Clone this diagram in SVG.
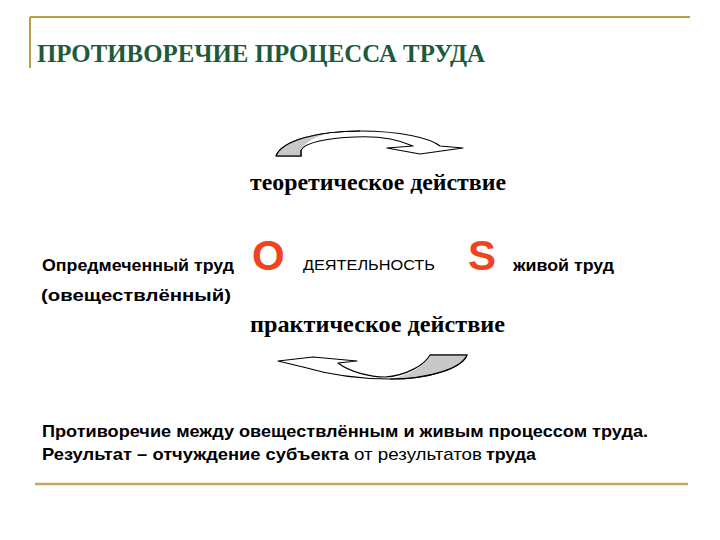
<svg xmlns="http://www.w3.org/2000/svg" width="720" height="540" viewBox="0 0 720 540">
<style>
.serif{font-family:"Liberation Serif","Times New Roman",serif;font-weight:bold;fill:#000}
.sans{font-family:"Liberation Sans",Arial,sans-serif;fill:#000}
.b{font-weight:bold}
.red{font-family:"Liberation Sans",Arial,sans-serif;font-weight:bold;font-size:42px;fill:#ee4420}
.arrow{fill:#fff;stroke:#000;stroke-width:1.2;stroke-linejoin:round}
.shade{fill:#c8c8c8;stroke:none}
</style>
<rect width="720" height="540" fill="#fff"/>
<g id="frame">
<line x1="30" y1="17" x2="690" y2="17" stroke="#b8a040" stroke-width="2"/>
<line x1="30" y1="17" x2="30" y2="68" stroke="#b8a040" stroke-width="2"/>
<line x1="35" y1="484" x2="688" y2="484" stroke="#c8a860" stroke-width="2.5"/>
</g>
<g id="title"><text x="37" y="62" font-family="Liberation Serif,Times New Roman,serif" font-weight="bold" font-size="25" fill="#1e5a3c" textLength="448" lengthAdjust="spacingAndGlyphs">ПРОТИВОРЕЧИЕ ПРОЦЕССА ТРУДА</text></g>
<g id="connectors">
<g id="arrow-top">
<path class="arrow" d="M276,156 C282,140 320,131 360,131 C400,131 430,138 440,146 L463,148 L420,154 L387,148 L413,146 C395,138 375,136 355,137 C325,138 305,143 301,150 L301,156 Z"/>
<path class="shade" d="M277,155.5 C282,143 305,135 326,134 C312,138 304,144 300.5,150 L300.5,155.5 Z"/>
<path fill="none" stroke="#000" stroke-width="1.2" d="M276,156 C282,140 320,131 360,131 M301,150 L301,156 L276,156"/>
</g>
<g id="arrow-bottom">
<path class="arrow" d="M278,361 L313,357 L357,361 L338,363 C350,372 370,377 385,377 C405,376 425,365 430,355 L467,355 C462,368 430,379 390,379 C350,379 320,372 303,367 Z"/>
<path class="shade" d="M430.5,355.5 L466.5,355.5 C461,368 430,378.5 392,378.5 C410,375 425,365 430.5,355.5 Z"/>
<path fill="none" stroke="#000" stroke-width="1.2" d="M430,355 L467,355 C462,368 430,379 390,379"/>
</g>
</g>
<g id="theory"><text class="serif" x="250" y="190" font-size="24" textLength="256" lengthAdjust="spacingAndGlyphs">теоретическое действие</text></g>
<g id="objectified">
<text class="sans b" x="42" y="271" font-size="17" textLength="192" lengthAdjust="spacingAndGlyphs">Опредмеченный труд</text>
<text class="sans b" x="41" y="301" font-size="17" textLength="190" lengthAdjust="spacingAndGlyphs">(овеществлённый)</text>
</g>
<g id="O"><text class="red" x="252" y="270">O</text></g>
<g id="activity"><text class="sans" x="303" y="270" font-size="15" textLength="132" lengthAdjust="spacingAndGlyphs">ДЕЯТЕЛЬНОСТЬ</text></g>
<g id="S"><text class="red" x="468" y="270">S</text></g>
<g id="living"><text class="sans b" x="513" y="271" font-size="17" textLength="101" lengthAdjust="spacingAndGlyphs">живой труд</text></g>
<g id="practice"><text class="serif" x="250" y="332" font-size="24" textLength="255" lengthAdjust="spacingAndGlyphs">практическое действие</text></g>
<g id="conclusion">
<text class="sans b" x="42" y="437" font-size="17" textLength="606" lengthAdjust="spacingAndGlyphs">Противоречие между овеществлённым и живым процессом труда.</text>
<text class="sans" x="42" y="460" font-size="17"><tspan class="b" textLength="307" lengthAdjust="spacingAndGlyphs">Результат – отчуждение субъекта</tspan> <tspan x="354" textLength="128" lengthAdjust="spacingAndGlyphs">от результатов</tspan> <tspan class="b" x="486" textLength="50" lengthAdjust="spacingAndGlyphs">труда</tspan></text>
</g>
</svg>
